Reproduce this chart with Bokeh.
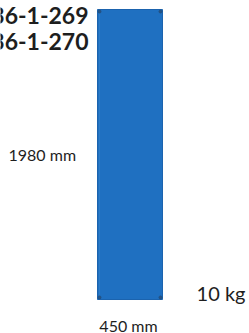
from bokeh.plotting import figure
from bokeh.models import Range1d, Label
from bokeh.embed import file_html
from bokeh.resources import INLINE

# --- data ---
product_codes = ["36-1-269", "36-1-270"]
panel_width_mm = 450
panel_height_mm = 1980
weight_kg = 10
width_label = f"{panel_width_mm} mm"
height_label = f"{panel_height_mm} mm"
weight_label = f"{weight_kg} kg"

W, H = 249, 333
# scale (mm per pixel) and panel placement within the canvas
sx = panel_width_mm / 65.0
sy = panel_height_mm / 290.0
left_px, top_px = 97, 9  # panel's top-left corner in canvas px

p = figure(width=W, height=H, output_backend="svg", toolbar_location=None,
           x_range=Range1d(-left_px * sx, (W - left_px) * sx),
           y_range=Range1d(panel_height_mm - (H - top_px) * sy, panel_height_mm + top_px * sy),
           min_border=0, outline_line_color=None, background_fill_color="white",
           border_fill_color="white")
p.axis.visible = False
p.grid.visible = False

# panel
p.quad(left=[0], right=[panel_width_mm], bottom=[0], top=[panel_height_mm],
       fill_color="#1F70C1", line_color="#1B63AE", line_width=1)
# faint inner line (texture)
p.segment(x0=[panel_width_mm * 0.03], x1=[panel_width_mm * 0.03], y0=[0], y1=[panel_height_mm],
          line_color="#3A86CF", line_alpha=0.5, line_width=1)
# corner holes
hx = [14, panel_width_mm - 14, 14, panel_width_mm - 14]
hy = [panel_height_mm - 14, panel_height_mm - 14, 14, 14]
p.scatter(hx, hy, size=3, color="#244E7A", alpha=0.8)

TXT = "#1E1E1E"
def lab(text, x, y, size, bold=False, align="left"):
    # x, y are canvas pixel coordinates from top-left
    p.add_layout(Label(x=x, y=H - y, x_units="screen", y_units="screen", text=text,
                       text_font="Lato", text_font_size=f"{size}px",
                       text_font_style="bold" if bold else "normal",
                       text_color=TXT, text_align=align, text_baseline="alphabetic"))

lab(product_codes[0], 88, 15, 23, bold=True, align="right")
lab(product_codes[1], 88, 41, 23, bold=True, align="right")
lab(height_label, 8, 154, 16)
lab(width_label, 128, 325, 16, align="center")
lab(weight_label, 245, 292, 20, align="right")

open("out.html", "w").write(file_html(p, INLINE))
